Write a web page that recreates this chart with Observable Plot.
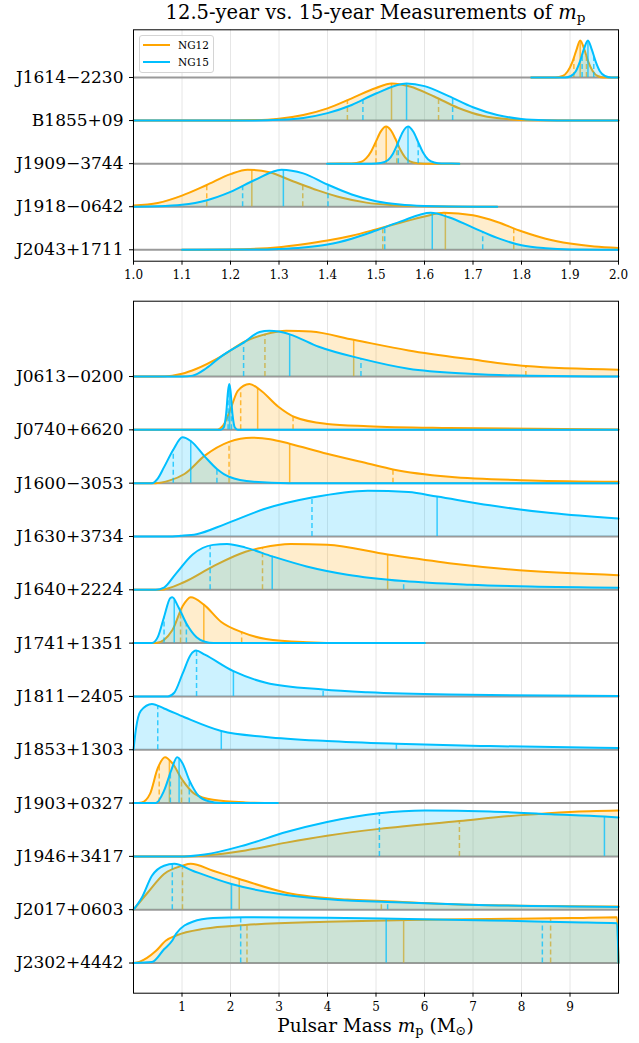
<!DOCTYPE html>
<html>
<head>
<meta charset="utf-8">
<script src="https://cdn.jsdelivr.net/npm/d3@7"></script>
<script src="https://cdn.jsdelivr.net/npm/@observablehq/plot@0.6"></script>
<style>
  body { margin: 0; background: #fff; }
  #wrap { position: relative; width: 639px; height: 1043px; font-family: "DejaVu Serif", serif; color: #000; }
  #title { position: absolute; z-index: 2; left: 133px; width: 485px; top: 0px; text-align: center; font-size: 19.5px; line-height: 26px; }
  #top { position: absolute; left: 0; top: 20px; }
  #bottom { position: absolute; left: 0; top: 290px; }
  #xlabel { position: absolute; z-index: 2; left: 133px; width: 485px; top: 1014px; text-align: center; font-size: 18.5px; line-height: 24px; }
  sub { font-size: 0.7em; vertical-align: -0.25em; line-height: 0; }
  #legend { position: absolute; z-index: 2; left: 139px; top: 35px; width: 73px; height: 36px; border: 1px solid #d4d4d4; border-radius: 3px; background: rgba(255,255,255,0.85); font-size: 10.5px; }
  .key { position: absolute; left: 3px; height: 12px; display: flex; align-items: center; }
  .key span.sw { display: inline-block; width: 27px; height: 2.5px; margin-right: 8px; }
</style>
</head>
<body>
<div id="wrap">
  <div id="title">12.5-year vs. 15-year Measurements of <i>m</i><sub>p</sub></div>
  <div id="top"></div>
  <div id="bottom"></div>
  <div id="legend">
    <div class="key" style="top:3px"><span class="sw" style="background:#ffa500"></span>NG12</div>
    <div class="key" style="top:20px"><span class="sw" style="background:#00bfff"></span>NG15</div>
  </div>
  <div id="xlabel">Pulsar Mass <i>m</i><sub>p</sub> (M<sub>⊙</sub>)</div>
</div>
<script>
// Pulsars shown in each panel, top to bottom
const topPulsars = ["J1614−2230", "B1855+09", "J1909−3744", "J1918−0642", "J2043+1711"];
const bottomPulsars = ["J0613−0200", "J0740+6620", "J1600−3053", "J1630+3734", "J1640+2224", "J1741+1351",
  "J1811−2405", "J1853+1303", "J1903+0327", "J1946+3417", "J2017+0603", "J2302+4442"];

// Axis ticks
const topTicks = [1.0, 1.1, 1.2, 1.3, 1.4, 1.5, 1.6, 1.7, 1.8, 1.9, 2.0];
const bottomTicks = [1, 2, 3, 4, 5, 6, 7, 8, 9];

// Posterior densities of pulsar mass, [mass, density relative to peak]
const ng12Top = {
  "J1614−2230": [[1.82,0],[1.87,0],[1.885,0.04],[1.895,0.16],[1.905,0.42],[1.913,0.73],[1.921,1],[1.929,0.78],[1.937,0.45],[1.947,0.17],[1.957,0.04],[1.97,0],[2.0,0]],
  "B1855+09": [[1.0,0],[1.2,0.004],[1.25,0.012],[1.3,0.05],[1.35,0.15],[1.4,0.33],[1.45,0.6],[1.5,0.88],[1.532,1],[1.57,0.92],[1.62,0.65],[1.67,0.34],[1.72,0.13],[1.77,0.04],[1.82,0.008],[1.9,0],[2.0,0]],
  "J1909−3744": [[1.40,0],[1.45,0.003],[1.47,0.05],[1.48,0.15],[1.49,0.33],[1.50,0.6],[1.51,0.87],[1.521,1],[1.53,0.91],[1.54,0.67],[1.55,0.38],[1.56,0.17],[1.57,0.06],[1.585,0.01],[1.6,0],[1.672,0]],
  "J1918−0642": [[1.0,0.03],[1.05,0.1],[1.1,0.3],[1.15,0.58],[1.2,0.88],[1.235,1],[1.28,0.93],[1.33,0.68],[1.38,0.44],[1.43,0.24],[1.48,0.11],[1.53,0.045],[1.6,0.012],[1.7,0],[1.75,0]],
  "J2043+1711": [[1.1,0],[1.2,0.01],[1.3,0.07],[1.35,0.15],[1.4,0.25],[1.45,0.38],[1.5,0.55],[1.55,0.73],[1.6,0.9],[1.64,1],[1.7,0.93],[1.75,0.75],[1.8,0.5],[1.85,0.3],[1.9,0.17],[1.95,0.09],[2.0,0.05]]
};
const ng15Top = {
  "J1614−2230": [[1.82,0],[1.89,0],[1.902,0.04],[1.912,0.17],[1.921,0.45],[1.929,0.78],[1.937,1],[1.945,0.75],[1.953,0.43],[1.962,0.16],[1.972,0.04],[1.985,0],[2.0,0]],
  "B1855+09": [[1.0,0],[1.25,0.004],[1.3,0.02],[1.35,0.07],[1.4,0.2],[1.45,0.42],[1.5,0.73],[1.563,1],[1.6,0.93],[1.65,0.66],[1.7,0.36],[1.75,0.15],[1.8,0.045],[1.85,0.01],[1.9,0.002],[2.0,0]],
  "J1909−3744": [[1.399,0],[1.49,0],[1.51,0.02],[1.525,0.1],[1.535,0.27],[1.545,0.55],[1.555,0.85],[1.566,1],[1.577,0.86],[1.587,0.58],[1.597,0.3],[1.607,0.12],[1.62,0.03],[1.635,0.003],[1.672,0]],
  "J1918−0642": [[1.0,0],[1.05,0.01],[1.1,0.05],[1.15,0.17],[1.2,0.4],[1.25,0.72],[1.305,1],[1.35,0.9],[1.4,0.6],[1.45,0.33],[1.5,0.15],[1.55,0.06],[1.6,0.02],[1.65,0.005],[1.75,0]],
  "J2043+1711": [[1.1,0],[1.25,0.005],[1.3,0.02],[1.35,0.06],[1.4,0.14],[1.45,0.3],[1.5,0.52],[1.55,0.76],[1.613,1],[1.65,0.88],[1.7,0.6],[1.75,0.32],[1.8,0.12],[1.85,0.04],[1.9,0.01],[2.0,0]]
};
const ng12Bottom = {
  "J0613−0200": [[0,0],[0.5,0],[0.8,0.02],[1.0,0.06],[1.3,0.17],[1.81,0.44],[2.31,0.77],[2.71,0.92],[3.15,1],[3.66,0.98],[4.54,0.8],[5.67,0.57],[6.93,0.38],[8.09,0.23],[10,0.15]],
  "J0740+6620": [[0,0],[1.7,0],[1.85,0.1],[2.0,0.45],[2.15,0.85],[2.39,1],[2.6,0.88],[2.98,0.51],[3.32,0.28],[3.99,0.13],[4.83,0.08],[6.5,0.04],[10,0.01]],
  "J1600−3053": [[0,0],[0.46,0],[0.75,0.06],[1.05,0.2],[1.47,0.6],[1.97,0.9],[2.44,0.99],[2.82,0.96],[3.22,0.86],[3.99,0.64],[4.83,0.43],[5.35,0.3],[6.51,0.14],[8.19,0.06],[10,0.03]],
  "J1640+2224": [[0,0],[0.55,0],[1.05,0.17],[1.64,0.51],[2.31,0.83],[2.65,0.92],[3.24,1],[3.99,0.98],[5.24,0.77],[6.51,0.58],[8.19,0.41],[10,0.32]],
  "J1741+1351": [[0,0],[0.46,0],[0.8,0.28],[1.01,0.8],[1.18,1],[1.45,0.84],[1.81,0.46],[2.23,0.24],[2.73,0.09],[3.57,0.02],[4.4,0],[6.01,0]],
  "J1903+0327": [[0,0],[0.17,0.015],[0.34,0.2],[0.5,0.76],[0.65,1],[0.8,0.87],[1.01,0.5],[1.26,0.2],[1.64,0.07],[2.31,0.015],[2.98,0]],
  "J1946+3417": [[0,0],[1.05,0],[1.47,0.02],[2.31,0.13],[3.15,0.3],[3.99,0.45],[5.07,0.6],[6.72,0.77],[8.0,0.9],[9.0,0.97],[10,1]],
  "J2017+0603": [[0,0],[0.29,0.37],[0.63,0.78],[1.01,0.96],[1.18,1],[1.64,0.85],[2.18,0.67],[3.15,0.37],[4.41,0.22],[5.11,0.19],[6.93,0.11],[10,0.07]],
  "J2302+4442": [[0,0],[0.13,0.03],[0.46,0.26],[0.67,0.49],[0.88,0.6],[1.47,0.75],[2.31,0.83],[3.99,0.9],[5.67,0.94],[7.35,0.96],[9.03,0.98],[9.97,1],[10,0]]
};
const ng15Bottom = {
  "J0613−0200": [[0,0],[1.0,0],[1.22,0.02],[1.5,0.18],[1.81,0.44],[2.27,0.74],[2.6,0.97],[2.8,1],[3.0,0.98],[3.22,0.92],[3.82,0.65],[4.69,0.39],[5.67,0.17],[6.93,0.06],[8.19,0.015],[10,0]],
  "J0740+6620": [[0,0],[1.8,0],[1.86,0.05],[1.91,0.35],[1.95,0.85],[1.975,1],[2.0,0.85],[2.04,0.35],[2.09,0.05],[2.15,0],[10,0]],
  "J1600−3053": [[0,0],[0.38,0],[0.5,0.1],[0.63,0.35],[0.82,0.73],[1.01,1],[1.18,0.92],[1.47,0.58],[1.72,0.31],[1.97,0.14],[2.48,0.03],[3.2,0],[10,0]],
  "J1630+3734": [[0,0],[0.7,0],[0.97,0.015],[1.3,0.05],[1.89,0.27],[2.73,0.61],[3.68,0.85],[4.83,1],[5.67,0.97],[6.26,0.87],[7.35,0.68],[8.61,0.51],[10,0.39]],
  "J1640+2224": [[0,0],[0.46,0],[0.63,0.05],[0.88,0.36],[1.22,0.77],[1.64,0.98],[1.93,1],[2.31,0.92],[2.86,0.73],[3.57,0.51],[4.41,0.33],[5.57,0.19],[6.93,0.11],[8.19,0.07],[10,0.045]],
  "J1741+1351": [[0,0],[0.38,0],[0.5,0.13],[0.63,0.57],[0.76,0.985],[0.8,1],[0.92,0.8],[1.09,0.43],[1.3,0.13],[1.47,0.03],[1.65,0],[6.01,0]],
  "J1811−2405": [[0,0],[0.71,0],[0.84,0.08],[1.01,0.49],[1.18,0.91],[1.29,1],[1.47,0.91],[2.06,0.55],[2.73,0.3],[3.91,0.15],[4.83,0.09],[6.51,0.04],[10,0.01]],
  "J1853+1303": [[0,0],[0.05,0.45],[0.15,0.85],[0.38,1],[0.63,0.9],[1.05,0.71],[1.81,0.41],[2.73,0.28],[3.99,0.19],[5.42,0.13],[7.35,0.08],[10,0.04]],
  "J1903+0327": [[0,0],[0.46,0],[0.63,0.27],[0.78,0.72],[0.9,1],[1.01,0.87],[1.15,0.5],[1.34,0.16],[1.55,0.04],[1.8,0],[2.98,0]],
  "J1946+3417": [[0,0],[1.05,0],[1.47,0.04],[2.31,0.25],[3.15,0.53],[3.99,0.75],[5.07,0.94],[6.01,1],[7.35,0.98],[8.61,0.92],[9.71,0.87],[10,0.85]],
  "J2017+0603": [[0,0],[0.17,0.26],[0.38,0.74],[0.63,0.96],[0.84,1],[1.22,0.85],[2.02,0.56],[3.15,0.32],[4.41,0.2],[5.24,0.17],[6.93,0.11],[10,0.06]],
  "J2302+4442": [[0,0],[0.38,0.02],[0.63,0.3],[0.8,0.49],[0.88,0.64],[1.22,0.9],[1.64,0.98],[2.31,1],[3.99,0.99],[5.67,0.96],[7.35,0.93],[9.03,0.89],[9.97,0.87],[10,0]]
};

// Credible intervals [lower, median, upper]; null where outside the plotted range
const ng12TopIntervals = {
  "J1614−2230": [1.908, 1.921, 1.934], "B1855+09": [1.441, 1.532, 1.629], "J1909−3744": [1.500, 1.521, 1.543],
  "J1918−0642": [1.151, 1.244, 1.349], "J2043+1711": [1.514, 1.643, 1.784]
};
const ng15TopIntervals = {
  "J1614−2230": [1.925, 1.937, 1.949], "B1855+09": [1.473, 1.563, 1.658], "J1909−3744": [1.546, 1.566, 1.587],
  "J1918−0642": [1.225, 1.309, 1.401], "J2043+1711": [1.518, 1.616, 1.720]
};
const ng12BottomIntervals = {
  "J0613−0200": [2.71, 4.54, 8.09], "J0740+6620": [2.21, 2.56, 3.29], "J1600−3053": [1.97, 3.22, 5.35],
  "J1640+2224": [2.66, 5.24, null], "J1741+1351": [0.97, 1.45, 2.23], "J1903+0327": [0.53, 0.74, 0.99],
  "J1946+3417": [6.72, null, null], "J2017+0603": [1.01, 2.18, 5.11], "J2302+4442": [2.34, 5.57, 8.60]
};
const ng15BottomIntervals = {
  "J0613−0200": [2.27, 3.22, 4.69], "J0740+6620": [1.95, 1.98, 2.02], "J1600−3053": [0.82, 1.18, 1.72],
  "J1630+3734": [3.68, 6.26, null], "J1640+2224": [1.58, 2.86, 5.57], "J1741+1351": [0.63, 0.84, 1.09],
  "J1811−2405": [1.30, 2.06, 3.91], "J1853+1303": [0.50, 1.81, 5.42], "J1903+0327": [0.76, 0.94, 1.15],
  "J1946+3417": [5.07, 9.71, null], "J2017+0603": [0.80, 2.02, 5.24], "J2302+4442": [2.21, 5.21, 8.43]
};

const ORANGE = "#ffa500";
const BLUE = "#00bfff";
const PEAK = 0.86; // ridge height as a fraction of the row spacing

function heightAt(pts, x) {
  for (let i = 1; i < pts.length; i++) {
    const [x0, h0] = pts[i - 1], [x1, h1] = pts[i];
    if (x >= x0 && x <= x1) return x1 === x0 ? h1 : h0 + (h1 - h0) * (x - x0) / (x1 - x0);
  }
  return 0;
}

function ridgePanel({names, ng12, ng15, q12, q15, xDomain, yDomain, xTicks, xFormat, height, marginTop, marginBottom}) {
  const n = names.length;
  const base = nm => n - 1 - names.indexOf(nm);
  const rows = curves => names.filter(nm => curves[nm]).flatMap(nm =>
    curves[nm].map(([x, h]) => ({name: nm, x, y0: base(nm), y: base(nm) + PEAK * h})));
  const rules = (qs, curves) => names.filter(nm => qs[nm]).flatMap(nm =>
    qs[nm].map((x, k) => ({name: nm, x, k})).filter(d => d.x != null)
      .map(d => ({...d, y0: base(nm), y1: base(nm) + PEAK * heightAt(curves[nm], d.x)})));
  const layer = (curves, qs, color) => {
    const r = rows(curves), q = rules(qs, curves);
    return [
      Plot.areaY(r, {x: "x", y1: "y0", y2: "y", z: "name", fill: color, fillOpacity: 0.2, curve: "monotone-x"}),
      Plot.lineY(r, {x: "x", y: "y", z: "name", stroke: color, strokeWidth: 2, curve: "monotone-x"}),
      Plot.ruleX(q.filter(d => d.k === 1), {x: "x", y1: "y0", y2: "y1", stroke: color, strokeOpacity: 0.75, strokeWidth: 1.5}),
      Plot.ruleX(q.filter(d => d.k !== 1), {x: "x", y1: "y0", y2: "y1", stroke: color, strokeOpacity: 0.75, strokeWidth: 1.5, strokeDasharray: "5,3"})
    ];
  };
  return Plot.plot({
    width: 639, height, marginLeft: 133, marginRight: 21, marginTop, marginBottom,
    x: {domain: xDomain, axis: null},
    y: {domain: yDomain, axis: null},
    style: {fontFamily: "'DejaVu Serif', serif", background: "transparent", color: "black"},
    marks: [
      Plot.gridX(xTicks, {stroke: "#e6e6e6", strokeOpacity: 1}),
      Plot.ruleY(d3.range(n), {stroke: "#9a9a9a", strokeWidth: 2}),
      ...layer(ng12, q12, ORANGE),
      ...layer(ng15, q15, BLUE),
      Plot.frame({stroke: "black"}),
      Plot.axisY(d3.range(n), {tickFormat: i => names[n - 1 - i], tickSize: 4, tickPadding: 6, fontSize: 17, label: null}),
      Plot.axisX(xTicks, {tickFormat: xFormat, tickSize: 4, tickPadding: 5, fontSize: 12, label: null})
    ]
  });
}

document.getElementById("top").append(ridgePanel({
  names: topPulsars, ng12: ng12Top, ng15: ng15Top, q12: ng12TopIntervals, q15: ng15TopIntervals,
  xDomain: [1, 2], yDomain: [-0.265, 5.107], xTicks: topTicks, xFormat: d3.format(".1f"),
  height: 270, marginTop: 9.3, marginBottom: 29.3
}));

document.getElementById("bottom").append(ridgePanel({
  names: bottomPulsars, ng12: ng12Bottom, ng15: ng15Bottom, q12: ng12BottomIntervals, q15: ng15BottomIntervals,
  xDomain: [0, 10], yDomain: [-0.566, 12.413], xTicks: bottomTicks, xFormat: d3.format("d"),
  height: 753, marginTop: 10.7, marginBottom: 50.3
}));
</script>
</body>
</html>
